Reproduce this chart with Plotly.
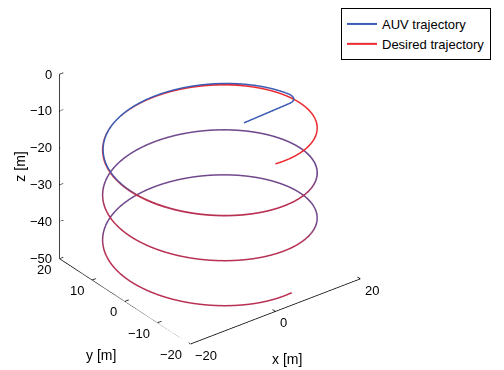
import numpy as np
import plotly.graph_objects as go

# ---- data ----
HELIX_RADIUS = 20.0
THETA_START_DEG = -90.0      # desired trajectory start angle (front)
THETA_END_DEG = 1002.0       # ~3 turns later (front, bottom)
Z_START = -10.0
Z_END = -47.0

AUV_START = [8.0, 0.0, -14.0]
AUV_BEND = [18.5, -0.5, -13.0]
AUV_CTRL = [20.4, -0.4, -12.7]
AUV_JOIN_DEG = 6.0
AUV_OFFSET_X = 0.35
AUV_OFFSET_Y = -0.10
AUV_OFFSET_Z = 0.45
AUV_DECAY_DEG = 100.0

X_TICKS = [-20, 0, 20]
Y_TICKS = [-20, -10, 0, 10, 20]
Z_TICKS = [0, -10, -20, -30, -40, -50]
X_LIM = [-20, 20]
Y_LIM = [-20, 20]
Z_LIM = [-50, 0]

VIEW_AZ = -37.5
VIEW_EL = 30.0

FONT = "Liberation Sans, Arial, Helvetica, sans-serif"
RED = (236, 42, 48)
BLUE = (60, 92, 180)
PURPLE = (112, 72, 140)
CRIMSON = (184, 48, 82)


def lab(v):
    return str(v).replace("-", "\u2212")


def mix(c1, c2, t):
    t = np.clip(np.asarray(t, float), 0, 1)[:, None]
    a = np.array(c1, float)[None, :]
    b = np.array(c2, float)[None, :]
    return a * (1 - t) + b * t


def to_css(arr):
    return ["rgb(%d,%d,%d)" % tuple(int(round(v)) for v in row) for row in arr]


def smoothstep(x, a, b):
    t = np.clip((x - a) / (b - a), 0, 1)
    return t * t * (3 - 2 * t)


def overlap_colour(tdeg):
    m = np.mod(tdeg, 360.0)
    front = smoothstep(m, 125, 160) * (1 - smoothstep(m, 285, 320))
    return mix(PURPLE, CRIMSON, front)


# desired helix
th = np.radians(np.linspace(THETA_START_DEG, THETA_END_DEG, 1400))


def helix_z(t):
    return Z_START + (Z_END - Z_START) * (t - th[0]) / (th[-1] - th[0])


xd = HELIX_RADIUS * np.cos(th)
yd = HELIX_RADIUS * np.sin(th)
zd = helix_z(th)
thd = np.degrees(th)
ov_d = smoothstep(thd, 150, 215)[:, None]
col_d = np.array(RED, float)[None, :] * (1 - ov_d) + overlap_colour(thd) * ov_d

# AUV trajectory
S = np.array(AUV_START); B = np.array(AUV_BEND); C = np.array(AUV_CTRL)
tj = np.radians(np.linspace(AUV_JOIN_DEG, THETA_END_DEG, 1400))
w = np.exp(-(np.degrees(tj) - AUV_JOIN_DEG) / AUV_DECAY_DEG)
xa_h = HELIX_RADIUS * np.cos(tj) + AUV_OFFSET_X * w
ya_h = HELIX_RADIUS * np.sin(tj) + AUV_OFFSET_Y * w
za_h = helix_z(tj) + AUV_OFFSET_Z * w
J = np.array([xa_h[0], ya_h[0], za_h[0]])
s = np.linspace(0, 1, 20)[:, None]
line1 = S + (B - S) * np.linspace(0, 1, 10)[:, None]
bez = (1 - s) ** 2 * B + 2 * (1 - s) * s * C + s ** 2 * J
xa = np.concatenate([line1[:, 0], bez[:, 0], xa_h])
ya = np.concatenate([line1[:, 1], bez[:, 1], ya_h])
za = np.concatenate([line1[:, 2], bez[:, 2], za_h])
tad = np.concatenate([np.full(30, AUV_JOIN_DEG), np.degrees(tj)])
ov_a = smoothstep(tad, 150, 215)[:, None]
col_a = np.array(BLUE, float)[None, :] * (1 - ov_a) + overlap_colour(tad) * ov_a

fig = go.Figure()
fig.add_trace(go.Scatter3d(x=xd, y=yd, z=zd, mode="lines", showlegend=False,
                           line=dict(color=to_css(col_d), width=3), hoverinfo="skip"))
fig.add_trace(go.Scatter3d(x=xa, y=ya, z=za, mode="lines", showlegend=False,
                           line=dict(color=to_css(col_a), width=3), hoverinfo="skip"))
# legend entries
fig.add_trace(go.Scatter3d(x=[None], y=[None], z=[None], mode="lines", name="AUV trajectory",
                           legendgroup="a", line=dict(color="rgb(%d,%d,%d)" % BLUE, width=2)))
fig.add_trace(go.Scatter3d(x=[None], y=[None], z=[None], mode="lines", name="Desired trajectory",
                           legendgroup="d", line=dict(color="rgb(%d,%d,%d)" % RED, width=2)))

# axis lines (MATLAB style: three edges only)
ax_x = [X_LIM[0], X_LIM[1], None, X_LIM[0], X_LIM[0], None, X_LIM[0], X_LIM[0]]
ax_y = [Y_LIM[0], Y_LIM[0], None, Y_LIM[0], Y_LIM[1], None, Y_LIM[1], Y_LIM[1]]
ax_z = [Z_LIM[0], Z_LIM[0], None, Z_LIM[0], Z_LIM[0], None, Z_LIM[0], Z_LIM[1]]
tl = 0.9
tx, ty, tz = [], [], []
for v in X_TICKS:
    tx += [v, v, None]; ty += [Y_LIM[0], Y_LIM[0] + tl, None]; tz += [Z_LIM[0], Z_LIM[0], None]
for v in Y_TICKS:
    tx += [X_LIM[0], X_LIM[0] + tl, None]; ty += [v, v, None]; tz += [Z_LIM[0], Z_LIM[0], None]
for v in Z_TICKS:
    tx += [X_LIM[0], X_LIM[0] + tl, None]; ty += [Y_LIM[1], Y_LIM[1], None]; tz += [v, v, None]
fig.add_trace(go.Scatter3d(x=ax_x + [None] + tx, y=ax_y + [None] + ty, z=ax_z + [None] + tz,
                           mode="lines", line=dict(color="black", width=1.5),
                           showlegend=False, hoverinfo="skip"))

tick_font = dict(family=FONT, size=13, color="black")
title_font = dict(family=FONT, size=14, color="black")
ann = []
for v in Z_TICKS:
    ann.append(dict(x=X_LIM[0], y=Y_LIM[1], z=v, text=lab(v), showarrow=False,
                    xanchor="right", yanchor="middle", xshift=-5, font=tick_font))
for v in Y_TICKS:
    ann.append(dict(x=X_LIM[0], y=v, z=Z_LIM[0], text=lab(v), showarrow=False,
                    xanchor="right", yanchor="middle", xshift=-6, yshift=-11, font=tick_font))
for v in X_TICKS:
    ann.append(dict(x=v, y=Y_LIM[0], z=Z_LIM[0], text=lab(v), showarrow=False,
                    xanchor="left", yanchor="middle", xshift=3, yshift=-12, font=tick_font))
ann.append(dict(x=X_LIM[0], y=Y_LIM[1], z=sum(Z_LIM) / 2, text="z [m]", showarrow=False,
                textangle=-90, xshift=-39, font=title_font))
ann.append(dict(x=X_LIM[0], y=0, z=Z_LIM[0], text="y [m]", showarrow=False,
                xshift=-24, yshift=-54, font=title_font))
ann.append(dict(x=0, y=Y_LIM[0], z=Z_LIM[0], text="x [m]", showarrow=False,
                xshift=12, yshift=-48, font=title_font))

az, el = np.radians(VIEW_AZ), np.radians(VIEW_EL)
d = 2.0
view_dir = np.array([np.sin(az) * np.cos(el), -np.cos(az) * np.cos(el), np.sin(el)])
screen_right = np.array([np.cos(az), np.sin(az), 0.0])
screen_up = np.cross(view_dir, screen_right)
PX_PER_UNIT = 174.6
shift_px = np.array([5.5, -7.5])   # move camera target: right, down (in px)
ctr = (shift_px[0] * screen_right + shift_px[1] * screen_up) / PX_PER_UNIT
eye_v = ctr + d * view_dir

hidden = dict(visible=False, showspikes=False)
fig.update_layout(
    width=504, height=370,
    margin=dict(l=0, r=0, t=0, b=0),
    paper_bgcolor="white",
    font=dict(family=FONT, size=13, color="black"),
    scene=dict(
        domain=dict(x=[0, 0.829], y=[0.05, 1.0]),
        xaxis=dict(range=[X_LIM[0], X_LIM[1] + 0.5], **hidden),
        yaxis=dict(range=[Y_LIM[0] - 0.3, Y_LIM[1]], **hidden),
        zaxis=dict(range=Z_LIM, **hidden),
        aspectmode="manual", aspectratio=dict(x=1.232, y=1.232, z=1.21),
        camera=dict(eye=dict(x=eye_v[0], y=eye_v[1], z=eye_v[2]),
                    up=dict(x=0, y=0, z=1),
                    center=dict(x=ctr[0], y=ctr[1], z=ctr[2]),
                    projection=dict(type="orthographic")),
        annotations=ann,
        bgcolor="white",
    ),
    legend=dict(x=333 / 504, xanchor="left", y=1, yanchor="top", bgcolor="white",
                bordercolor="black", borderwidth=1, font=dict(family=FONT, size=13),
                tracegroupgap=4, traceorder="normal"),
    showlegend=True,
)
fig.write_html("out.html")
